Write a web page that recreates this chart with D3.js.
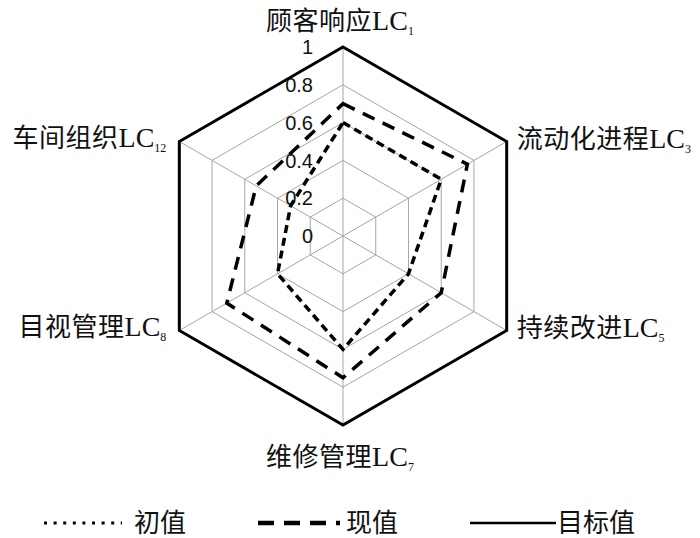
<!DOCTYPE html>
<html>
<head>
<meta charset="utf-8">
<script src="https://cdn.jsdelivr.net/npm/d3@7"></script>
<style>
body { margin: 0; background: #fff; }
svg { display: block; }
</style>
</head>
<body>
<svg width="700" height="538"></svg>
<script>
// axes (clockwise from top) and their subscripts
var axisNames = ["顾客响应", "流动化进程", "持续改进", "维修管理", "目视管理", "车间组织"];
var axisSubs = ["1", "3", "5", "7", "8", "12"];
var initialVals = [0.6, 0.6, 0.4, 0.6, 0.4, 0.32];   // 初值
var currentVals = [0.7, 0.76, 0.6, 0.75, 0.71, 0.53]; // 现值
var targetVals = [1, 1, 1, 1, 1, 1];                  // 目标值
var tickVals = [0, 0.2, 0.4, 0.6, 0.8, 1];
var seriesNames = ["初值", "现值", "目标值"];

var svg = d3.select("svg");
const cx = 343, cy = 236, R = 189;
const cjk = "'Noto Sans CJK SC', sans-serif";
const serif = "'Liberation Serif', 'DejaVu Serif', serif";

var r = d3.scaleLinear().domain([0, 1]).range([0, R]);
var angle = (i) => i * 2 * Math.PI / axisNames.length;

var g = svg.append("g").attr("transform", `translate(${cx},${cy})`);

var radial = d3.lineRadial()
	.angle((d, i) => angle(i))
	.radius((d) => r(d))
	.curve(d3.curveLinearClosed);

// grid hexagons
g.append("g")
	.selectAll("path")
	.data(tickVals.filter(t => t > 0 && t < 1))
	.join("path")
	.attr("d", t => radial(axisNames.map(() => t)))
	.attr("fill", "none")
	.attr("stroke", "#a6a6a6")
	.attr("stroke-width", 1);

// spokes
g.append("g")
	.selectAll("line")
	.data(axisNames)
	.join("line")
	.attr("x1", 0).attr("y1", 0)
	.attr("x2", (d, i) => r(1) * Math.sin(angle(i)))
	.attr("y2", (d, i) => -r(1) * Math.cos(angle(i)))
	.attr("stroke", "#a6a6a6")
	.attr("stroke-width", 1);

// tick labels along top axis
g.append("g")
	.selectAll("text")
	.data(tickVals)
	.join("text")
	.attr("x", -30)
	.attr("y", t => -r(t))
	.attr("dy", "0.36em")
	.attr("text-anchor", "end")
	.attr("font-family", "'Liberation Sans', Arial, sans-serif")
	.attr("font-size", 20)
	.attr("fill", "#111")
	.text(t => t);

// series
var series = [
	{ vals: targetVals, dash: null, width: 3 },
	{ vals: currentVals, dash: "13,9", width: 3.5 },
	{ vals: initialVals, dash: "8,5", width: 3.5 }
];

g.append("g")
	.selectAll("path")
	.data(series)
	.join("path")
	.attr("d", s => radial(s.vals))
	.attr("fill", "none")
	.attr("stroke", "#000")
	.attr("stroke-width", s => s.width)
	.attr("stroke-dasharray", s => s.dash)
	.attr("stroke-linejoin", "miter");

// axis labels
function labelPos(i) {
	var a = angle(i);
	var x = r(1) * Math.sin(a), y = -r(1) * Math.cos(a);
	if (i == 0) return { x: x - 3, y: y - 17, anchor: "middle" };
	if (i == 3) return { x: x - 3, y: y + 41, anchor: "middle" };
	if (x > 0) return { x: x + 10, y: y + 6, anchor: "start" };
	return { x: x - 13, y: y + 5, anchor: "end" };
}

var labels = g.append("g")
	.selectAll("text")
	.data(axisNames)
	.join("text")
	.attr("x", (d, i) => labelPos(i).x)
	.attr("y", (d, i) => labelPos(i).y)
	.attr("text-anchor", (d, i) => labelPos(i).anchor)
	.attr("fill", "#111");

labels.append("tspan")
	.attr("font-family", cjk)
	.attr("font-size", 26)
	.attr("letter-spacing", 0.5)
	.text(d => d);
labels.append("tspan")
	.attr("font-family", serif)
	.attr("font-size", 28)
	.text("LC");
labels.append("tspan")
	.attr("font-family", serif)
	.attr("font-size", 12)
	.attr("dy", 5)
	.text((d, i) => axisSubs[i]);

// legend
var legend = svg.append("g");
var legendItems = [
	{ x1: 44, x2: 122, tx: 134, dash: "3,6.6", width: 3 },
	{ x1: 258, x2: 340, tx: 346, dash: "16,10", width: 4.5 },
	{ x1: 470, x2: 556, tx: 557, dash: null, width: 2.5 }
];
legend.selectAll("line")
	.data(legendItems)
	.join("line")
	.attr("x1", d => d.x1).attr("x2", d => d.x2)
	.attr("y1", 523).attr("y2", 523)
	.attr("stroke", "#000")
	.attr("stroke-width", d => d.width)
	.attr("stroke-dasharray", d => d.dash);
legend.selectAll("text")
	.data(legendItems)
	.join("text")
	.attr("x", d => d.tx)
	.attr("y", 523)
	.attr("dy", "0.36em")
	.attr("font-family", cjk)
	.attr("font-size", 26)
	.attr("fill", "#111")
	.text((d, i) => seriesNames[i]);
</script>
</body>
</html>
